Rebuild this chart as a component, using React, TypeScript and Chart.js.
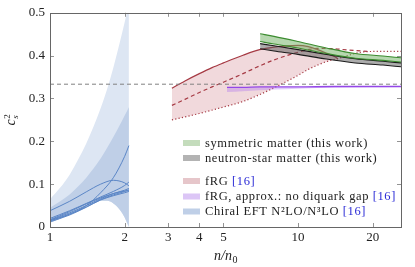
import React, { useEffect, useRef } from "react";
import { Chart, registerables } from "chart.js";
Chart.register(...registerables);

const FONT = "'Liberation Serif', 'DejaVu Serif', serif";

const xTicks = [1, 2, 3, 4, 5, 10, 20];
const yTicks = [0, 0.1, 0.2, 0.3, 0.4, 0.5];
const xMin = 1;
const xMax = 26;
const conformal = 1 / 3;

// Chiral EFT bands
const eftX = [1, 1.1, 1.2, 1.3, 1.4, 1.5, 1.6, 1.7, 1.8, 1.9, 2.0, 2.05, 2.08];
const eftOuterUpper = [0.065, 0.092, 0.122, 0.158, 0.195, 0.235, 0.277, 0.322, 0.372, 0.425, 0.478, 0.505, 0.52];
const eftInnerUpper = [0.045, 0.06, 0.076, 0.095, 0.115, 0.137, 0.16, 0.185, 0.21, 0.235, 0.26, 0.272, 0.28];
const eftLower = [0.01, 0.02, 0.03, 0.04, 0.049, 0.056, 0.061, 0.061, 0.055, 0.042, 0.022, 0.008, 0.0];

// Chiral EFT individual curves
const eftLineX = [1, 1.2, 1.4, 1.6, 1.8, 2.0, 2.08];
const eftLine1 = [0.015, 0.03, 0.05, 0.08, 0.115, 0.165, 0.19];
const eftLine2 = [0.038, 0.06, 0.082, 0.1, 0.109, 0.103, 0.096];
const eftLine3 = [0.02, 0.038, 0.055, 0.07, 0.083, 0.097, 0.105];
const eftLine4 = [0.016, 0.033, 0.05, 0.066, 0.078, 0.086, 0.09];
const eftLine5 = [0.014, 0.03, 0.047, 0.064, 0.075, 0.083, 0.087];
const eftLine6 = [0.012, 0.028, 0.046, 0.063, 0.073, 0.08, 0.083];
const eftLine7 = [0.017, 0.036, 0.054, 0.068, 0.078, 0.084, 0.085];
const eftLines = [eftLine1, eftLine2, eftLine3, eftLine4, eftLine5, eftLine6, eftLine7];

// fRG
const frgSolidX = [3.1, 3.5, 4, 4.5, 5, 6, 7, 8, 9, 10, 11, 12, 13, 14, 14.5];
const frgSolid = [0.324, 0.341, 0.358, 0.372, 0.383, 0.401, 0.414, 0.42, 0.423, 0.424, 0.421, 0.414, 0.406, 0.398, 0.393];
const frgDashedX = [3.1, 3.5, 4, 4.5, 5, 6, 7, 8, 9, 10, 11, 12, 14, 16, 19];
const frgDashed = [0.284, 0.298, 0.314, 0.327, 0.338, 0.358, 0.376, 0.39, 0.4, 0.408, 0.414, 0.417, 0.416, 0.413, 0.41];
const frgDottedX = [3.1, 4, 5, 6, 7, 8, 9, 10, 11, 12, 13, 14, 14.5, 16, 18.6, 22, 26];
const frgDotted = [0.25, 0.265, 0.28, 0.293, 0.309, 0.325, 0.34, 0.354, 0.368, 0.378, 0.386, 0.391, 0.393, 0.401, 0.409, 0.41, 0.41];

// fRG, no diquark gap
const noGapX = [5.17, 6, 7, 8, 10, 14, 20, 26];
const noGapUpper = [0.326, 0.326, 0.327, 0.327, 0.327, 0.328, 0.328, 0.328];
const noGapLower = [0.315, 0.317, 0.319, 0.321, 0.323, 0.325, 0.326, 0.327];

// this work
const workX = [7.03, 8, 10, 13, 17, 22, 26];
const symTop = [0.451, 0.445, 0.433, 0.418, 0.405, 0.399, 0.395];
const symBottom = [0.433, 0.427, 0.418, 0.405, 0.394, 0.389, 0.385];
const nsTop = [0.428, 0.423, 0.414, 0.403, 0.393, 0.387, 0.383];
const nsBottom = [0.416, 0.411, 0.403, 0.392, 0.383, 0.378, 0.374];

const legendEntries = [
  { color: "#c4dcbc", text: "symmetric matter (this work)", ref: "" },
  { color: "#b3b3b3", text: "neutron-star matter (this work)", ref: "" },
  { color: "#e6c6ca", text: "fRG ", ref: "[16]" },
  { color: "#dcc6f6", text: "fRG, approx.: no diquark gap ", ref: "[16]" },
  { color: "#bfcfe7", text: "Chiral EFT N\u00b2LO/N\u00b3LO ", ref: "[16]" },
];

const pts = (xs: number[], ys: number[]) => xs.map((x, i) => ({ x, y: ys[i] }));

const base = { pointRadius: 0, pointHoverRadius: 0, cubicInterpolationMode: "monotone" as const };

const decorPlugin = {
  id: "decor",
  afterDraw(chart: any) {
    const { ctx, chartArea: a, scales } = chart;
    const xs = scales.x;
    const ys = scales.y;
    ctx.save();
    // inner ticks
    ctx.strokeStyle = "#777";
    ctx.lineWidth = 0.8;
    ctx.beginPath();
    xTicks.forEach((v) => {
      const p = Math.round(xs.getPixelForValue(v)) + 0.5;
      if (p <= a.left + 1 || p >= a.right - 1) return;
      ctx.moveTo(p, a.bottom);
      ctx.lineTo(p, a.bottom - 4);
      ctx.moveTo(p, a.top);
      ctx.lineTo(p, a.top + 4);
    });
    yTicks.forEach((v) => {
      const p = Math.round(ys.getPixelForValue(v)) + 0.5;
      if (p <= a.top + 1 || p >= a.bottom - 1) return;
      ctx.moveTo(a.left, p);
      ctx.lineTo(a.left + 4, p);
      ctx.moveTo(a.right, p);
      ctx.lineTo(a.right - 4, p);
    });
    ctx.stroke();
    // frame
    ctx.strokeStyle = "#666";
    ctx.lineWidth = 1;
    ctx.strokeRect(Math.round(a.left) + 0.5, Math.round(a.top) + 0.5, Math.round(a.right - a.left), Math.round(a.bottom - a.top));

    // legend
    ctx.textBaseline = "middle";
    ctx.textAlign = "left";
    (ctx as any).letterSpacing = "0.6px";
    const ys0 = [143, 158, 181, 196.5, 211.5];
    legendEntries.forEach((e, i) => {
      const y = ys0[i];
      ctx.fillStyle = e.color;
      ctx.fillRect(183, y - 3, 17, 6);
      ctx.font = `12.5px ${FONT}`;
      ctx.fillStyle = "#222";
      ctx.fillText(e.text, 205, y + 0.5);
      if (e.ref) {
        const w = ctx.measureText(e.text).width;
        ctx.fillStyle = "#2a2ad6";
        ctx.fillText(e.ref, 205 + w, y + 0.5);
      }
    });
    (ctx as any).letterSpacing = "0px";

    // x label
    ctx.fillStyle = "#222";
    ctx.textBaseline = "alphabetic";
    ctx.font = `italic 14px ${FONT}`;
    const t1 = "n/n";
    const w1 = ctx.measureText(t1).width;
    ctx.font = `10px ${FONT}`;
    const w2 = ctx.measureText("0").width;
    const cx = (a.left + a.right) / 2;
    const sx = cx - (w1 + w2) / 2;
    ctx.font = `italic 14px ${FONT}`;
    ctx.fillText(t1, sx, 260);
    ctx.font = `10px ${FONT}`;
    ctx.fillText("0", sx + w1 + 0.5, 263);

    // y label
    ctx.translate(15, (a.top + a.bottom) / 2);
    ctx.rotate(-Math.PI / 2);
    ctx.font = `italic 14px ${FONT}`;
    const wc = ctx.measureText("c").width;
    const total = wc + 5;
    ctx.fillText("c", -total / 2, 0);
    ctx.font = `italic 9px ${FONT}`;
    ctx.fillText("s", -total / 2 + wc + 0.5, 3);
    ctx.font = `9px ${FONT}`;
    ctx.fillText("2", -total / 2 + wc + 0.5, -5.5);
    ctx.restore();
  },
};

export default function App() {
  const ref = useRef<HTMLCanvasElement | null>(null);
  useEffect(() => {
    document.body.style.margin = "0";
    const canvas = ref.current!;
    const blueLine = "#5b86c6";
    const red = "#a63a44";
    const datasets: any[] = [
      { ...base, data: pts(eftX, eftLower), borderWidth: 0, borderColor: "transparent", fill: false, order: 100 },
      { ...base, data: pts(eftX, eftOuterUpper), borderWidth: 0, borderColor: "transparent", backgroundColor: "#dde6f3", fill: 0, order: 99 },
      { ...base, data: pts(eftX, eftInnerUpper), borderWidth: 0, borderColor: "transparent", backgroundColor: "#bfcfe7", fill: 0, order: 98 },
      ...eftLines.map((l) => ({ ...base, data: pts(eftLineX, l), borderWidth: 1, borderColor: blueLine, fill: false, order: 90 })),
    ];
    const iDotted = datasets.length;
    datasets.push({ ...base, data: pts(frgDottedX, frgDotted), borderWidth: 1.2, borderColor: red, borderDash: [1.2, 2.2], fill: false, order: 79 });
    datasets.push({ ...base, data: pts(frgSolidX, frgSolid), borderWidth: 1.2, borderColor: red, backgroundColor: "rgba(190,80,95,0.22)", fill: iDotted, order: 81 });
    datasets.push({ ...base, data: pts(frgDashedX, frgDashed), borderWidth: 1.2, borderColor: red, borderDash: [4, 3], fill: false, order: 78 });
    const iNgL = datasets.length;
    datasets.push({ ...base, data: pts(noGapX, noGapLower), borderWidth: 0, borderColor: "transparent", fill: false, order: 72 });
    datasets.push({ ...base, data: pts(noGapX, noGapUpper), borderWidth: 1.4, borderColor: "#9447e8", backgroundColor: "rgba(170,110,240,0.35)", fill: iNgL, order: 70 });
    const iNsB = datasets.length;
    datasets.push({ ...base, data: pts(workX, nsBottom), borderWidth: 1.1, borderColor: "#1a1a1a", fill: false, order: 59 });
    datasets.push({ ...base, data: pts(workX, nsTop), borderWidth: 1.1, borderColor: "#1a1a1a", backgroundColor: "rgba(90,90,90,0.5)", fill: iNsB, order: 60 });
    const iSyB = datasets.length;
    datasets.push({ ...base, data: pts(workX, symBottom), borderWidth: 1.1, borderColor: "#3c8c30", fill: false, order: 49 });
    datasets.push({ ...base, data: pts(workX, symTop), borderWidth: 1.1, borderColor: "#3c8c30", backgroundColor: "rgba(110,175,95,0.5)", fill: iSyB, order: 50 });
    datasets.push({ ...base, data: pts([xMin, xMax], [conformal, conformal]), borderWidth: 1, borderColor: "#808080", borderDash: [4, 3], fill: false, order: 10 });

    const chart = new Chart(canvas, {
      type: "line",
      data: { datasets },
      options: {
        animation: false,
        responsive: false,
        events: [],
        layout: { padding: { top: 10.5, right: 14, left: 0, bottom: 0 } },
        plugins: { legend: { display: false }, tooltip: { enabled: false } },
        scales: {
          x: {
            type: "logarithmic",
            min: xMin,
            max: xMax,
            grid: { display: false, drawTicks: false },
            border: { display: false },
            ticks: {
              autoSkip: false,
              maxRotation: 0,
              padding: 3,
              color: "#222",
              font: { family: FONT, size: 13 },
              callback: (v: any) => String(v),
            },
            afterBuildTicks: (s: any) => {
              s.ticks = xTicks.map((v) => ({ value: v }));
            },
            afterFit: (s: any) => {
              s.height = 40;
            },
          },
          y: {
            type: "linear",
            min: 0,
            max: 0.5,
            grid: { display: false, drawTicks: false },
            border: { display: false },
            ticks: {
              padding: 5,
              color: "#222",
              font: { family: FONT, size: 13 },
              callback: (v: any) => (v === 0 ? "0" : String(v)),
            },
            afterBuildTicks: (s: any) => {
              s.ticks = yTicks.map((v) => ({ value: v }));
            },
            afterFit: (s: any) => {
              s.width = 50;
            },
          },
        },
      },
      plugins: [decorPlugin],
    });
    return () => chart.destroy();
  }, []);
  return (
    <div style={{ width: 415, height: 267 }}>
      <canvas ref={ref} width={415} height={267} style={{ display: "block", width: 415, height: 267 }} />
    </div>
  );
}
